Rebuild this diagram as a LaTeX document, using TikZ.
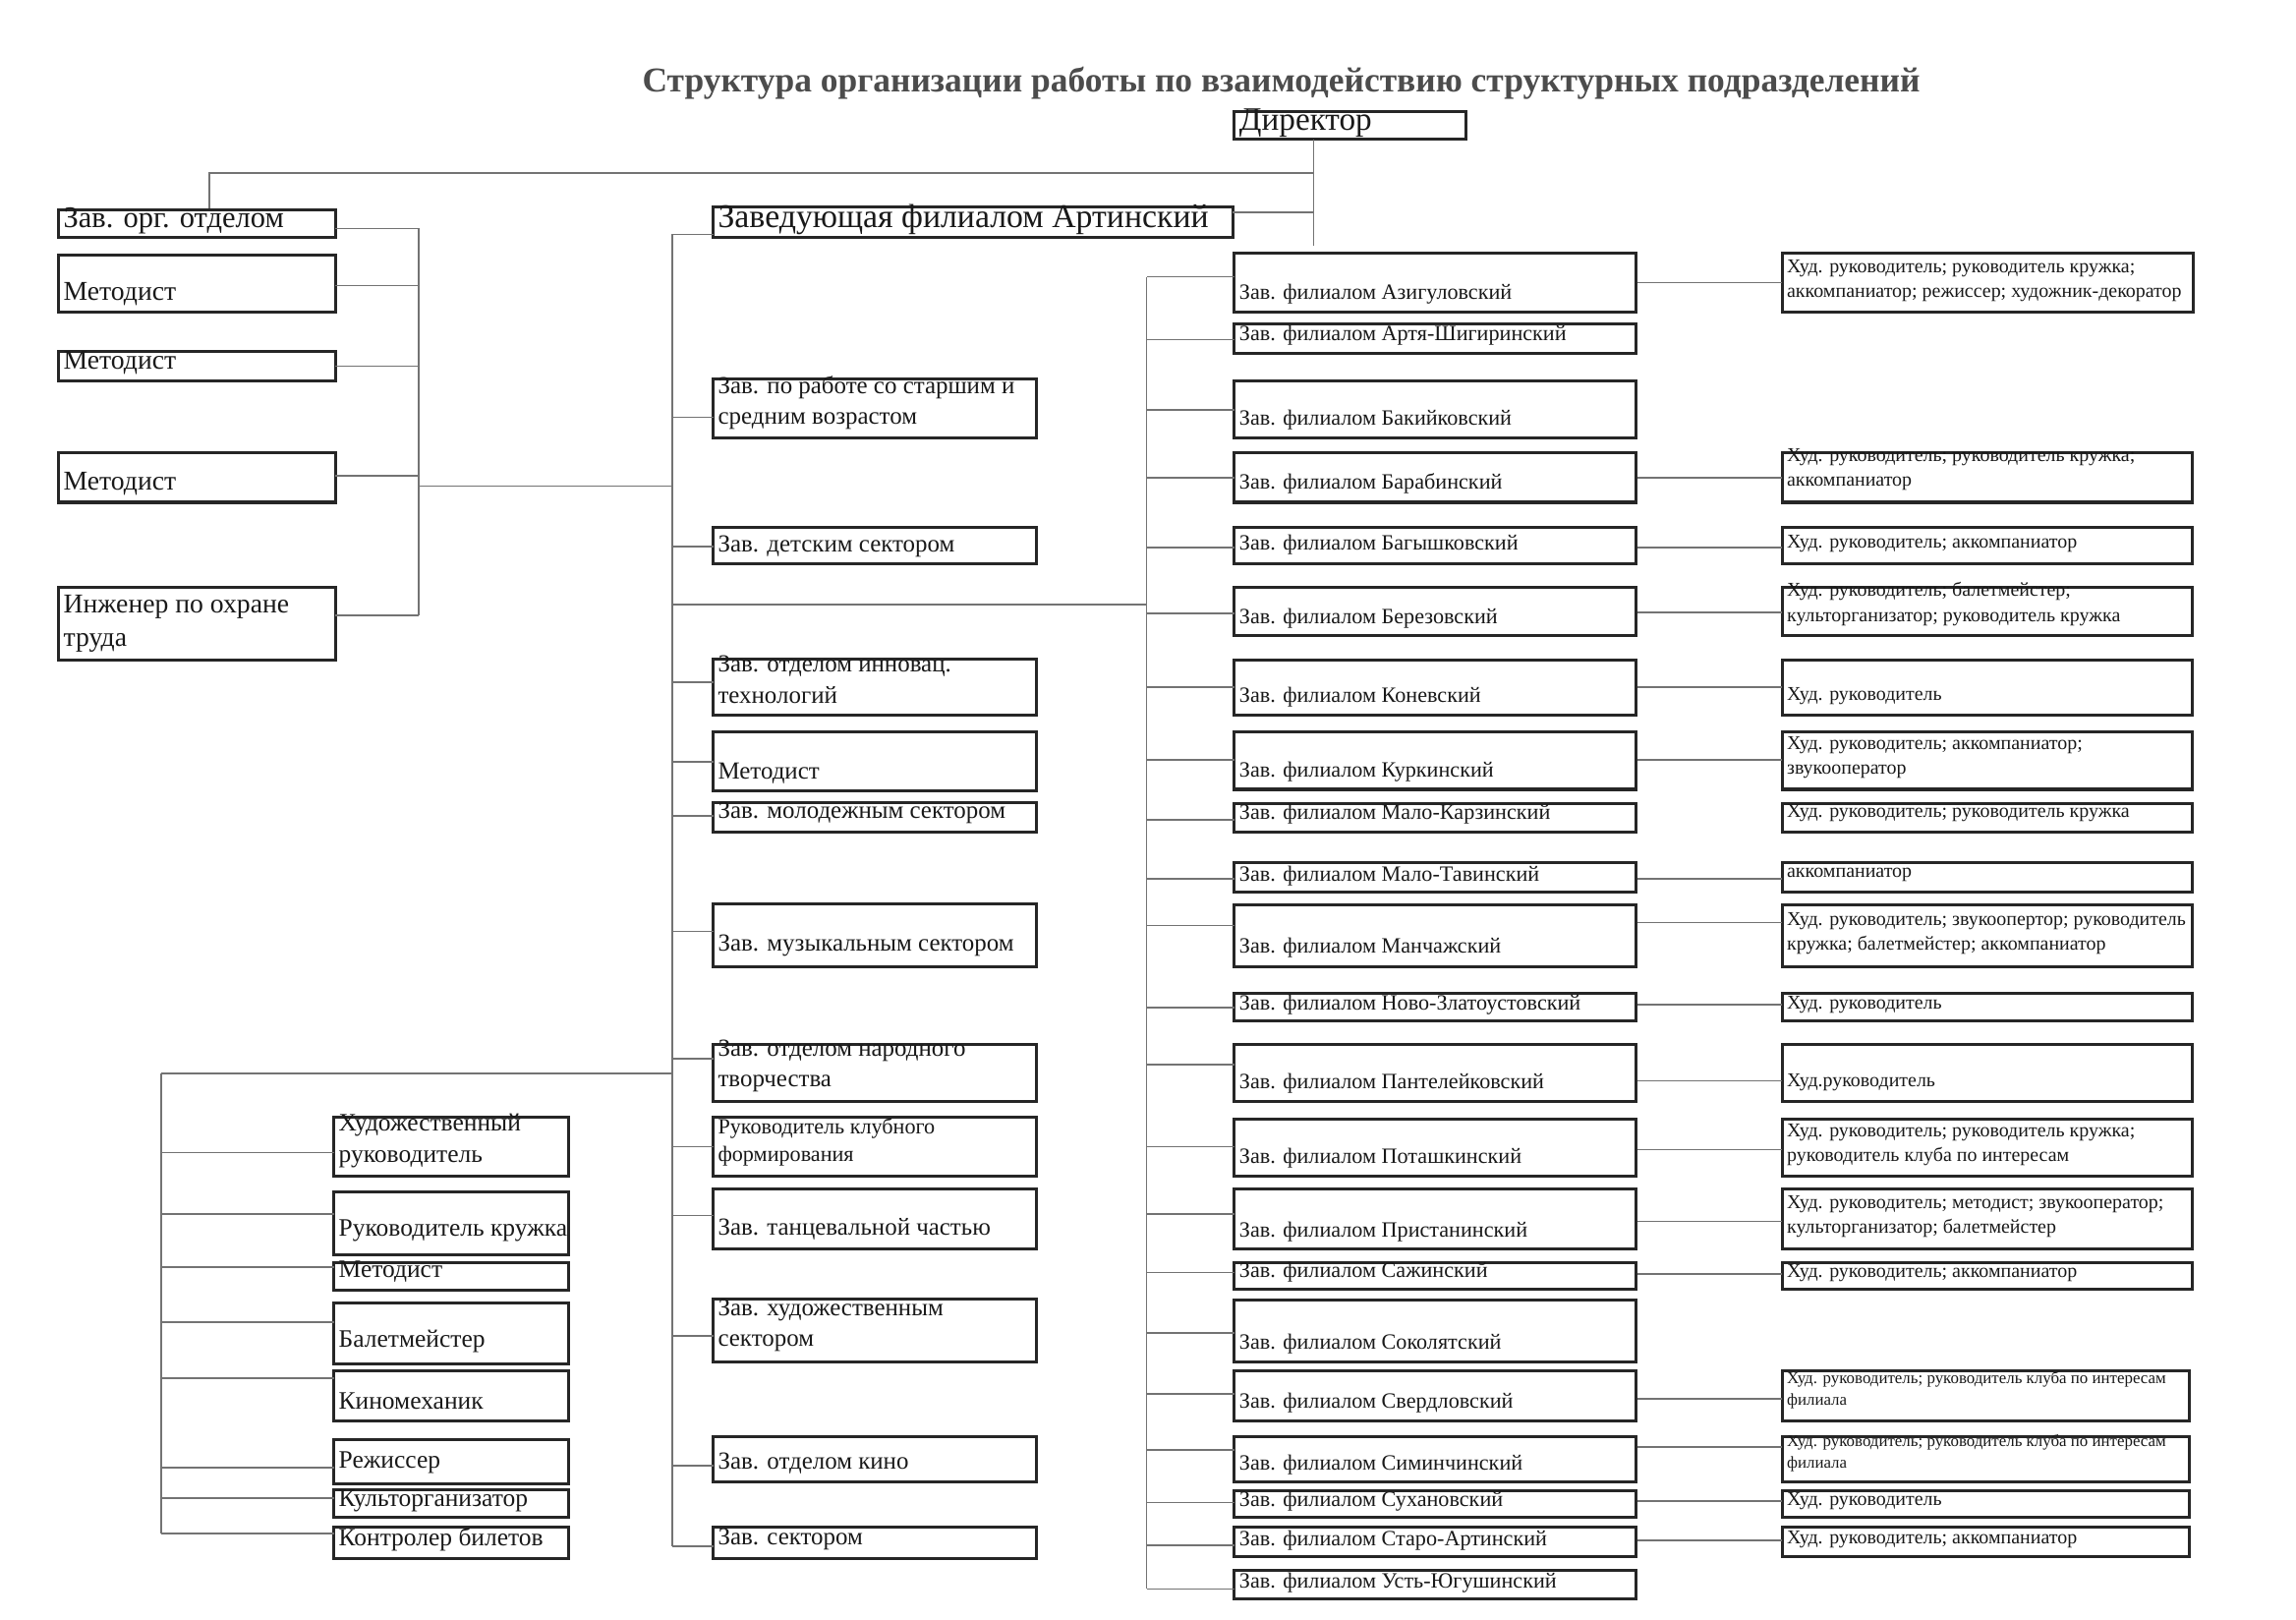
\documentclass[tikz,border=0pt]{standalone}
\usepackage{fontspec}
\setmainfont{Liberation Serif}
\usetikzlibrary{fit}

% box with its text and the two points where connectors meet it
\newcommand\orgbox[9]{%
  \node[box,fit={(#3,#4) (#5,#6)}] (#1) {};
  \node[#2,anchor=west] (#1-t) at (#3+3,#8) {#9};
  \coordinate (#1-w) at (#3,#7);
  \coordinate (#1-e) at (#5,#7);
}

\begin{document}
\begin{tikzpicture}[
  x=0.0189cm,y=-0.0189cm,
  box/.style={draw=black!85,line width=1.1pt,inner sep=0pt},
  conn/.style={draw=black!55,line width=0.6pt},
  txt/.style={inner sep=0pt,align=left,text=black!90},
  title/.style={font=\bfseries\fontsize{12.8}{15}\selectfont,text=black!70},
  big/.style={txt,font=\fontsize{12}{14}\selectfont},
  head/.style={txt,font=\fontsize{12.2}{14}\selectfont},
  lftbig/.style={txt,font=\fontsize{11}{13}\selectfont},
  lft/.style={txt,font=\fontsize{10}{12.3}\selectfont},
  mid/.style={txt,font=\fontsize{9}{11.3}\selectfont},
  low/.style={txt,font=\fontsize{9.2}{11.3}\selectfont},
  club/.style={txt,font=\fontsize{8}{10.3}\selectfont},
  brn/.style={txt,font=\fontsize{8}{9.6}\selectfont},
  rol/.style={txt,font=\fontsize{7.2}{9.1}\selectfont},
  rolsm/.style={txt,font=\fontsize{6.1}{8}\selectfont},
]
\useasboundingbox (0,0) rectangle (1568,1106);
\node[title] (ttl) at (875,57) {Структура организации работы по взаимодействию структурных подразделений};

\orgbox{dir}{big}{843}{76}{1001}{95}{95}{84}{Директор}
\orgbox{art}{head}{487}{141}{842}{162}{160}{150}{Заведующая филиалом Артинский}

\orgbox{org}{lftbig}{40}{143}{229}{162}{156}{151}{Зав. орг. отделом}
\orgbox{met1}{lft}{40}{174}{229}{213}{195}{201}{Методист}
\orgbox{met2}{lft}{40}{240}{229}{260}{250}{248}{Методист}
\orgbox{met3}{lft}{40}{309}{229}{343}{325}{330}{Методист}
\orgbox{eng}{lft}{40}{401}{229}{451}{420}{426}{Инженер по охране\\труда}

\orgbox{m1}{mid}{487}{259}{708}{299}{285}{275}{Зав. по работе со старшим и\\средним возрастом}
\orgbox{m2}{mid}{487}{360}{708}{385}{373}{373}{Зав. детским сектором}
\orgbox{m3}{mid}{487}{450}{708}{488}{466}{464}{Зав. отделом инновац.\\технологий}
\orgbox{m4}{mid}{487}{500}{708}{540}{520}{528}{Методист}
\orgbox{m5}{mid}{487}{548}{708}{568}{557}{555}{Зав. молодежным сектором}
\orgbox{m6}{mid}{487}{617}{708}{660}{636}{646}{Зав. музыкальным сектором}
\orgbox{m7}{mid}{487}{713}{708}{752}{723}{728}{Зав. отделом народного\\творчества}
\orgbox{m8}{club}{487}{763}{708}{803}{783}{780}{Руководитель клубного\\формирования}
\orgbox{m9}{mid}{487}{812}{708}{853}{830}{839}{Зав. танцевальной частью}
\orgbox{m10}{mid}{487}{887}{708}{930}{912}{905}{Зав. художественным\\сектором}
\orgbox{m11}{mid}{487}{981}{708}{1012}{1001}{999}{Зав. отделом кино}
\orgbox{m12}{mid}{487}{1043}{708}{1064}{1056}{1051}{Зав. сектором}

\orgbox{b1}{low}{228}{763}{388}{803}{787}{779}{Художественный\\руководитель}
\orgbox{b2}{low}{228}{814}{388}{857}{829}{840}{Руководитель кружка}
\orgbox{b3}{low}{228}{862}{388}{881}{865}{868}{Методист}
\orgbox{b4}{low}{228}{890}{388}{931}{903}{916}{Балетмейстер}
\orgbox{b5}{low}{228}{936}{388}{970}{941}{957}{Киномеханик}
\orgbox{b6}{low}{228}{983}{388}{1013}{1002}{999}{Режиссер}
\orgbox{b7}{low}{228}{1017}{388}{1036}{1023}{1025}{Культорганизатор}
\orgbox{b8}{low}{228}{1043}{388}{1064}{1047}{1051}{Контролер билетов}

\orgbox{azig}{brn}{843}{173}{1117}{213}{189}{201}{Зав. филиалом Азигуловский}
\orgbox{artsh}{brn}{843}{221}{1117}{241}{232}{229}{Зав. филиалом Артя-Шигиринский}
\orgbox{bakiy}{brn}{843}{260}{1117}{299}{280}{287}{Зав. филиалом Бакийковский}
\orgbox{barab}{brn}{843}{309}{1117}{343}{326}{330}{Зав. филиалом Барабинский}
\orgbox{bagysh}{brn}{843}{360}{1117}{385}{374}{372}{Зав. филиалом Багышковский}
\orgbox{berez}{brn}{843}{401}{1117}{434}{419}{422}{Зав. филиалом Березовский}
\orgbox{konev}{brn}{843}{451}{1117}{488}{469}{476}{Зав. филиалом Коневский}
\orgbox{kurk}{brn}{843}{500}{1117}{539}{519}{527}{Зав. филиалом Куркинский}
\orgbox{mkarz}{brn}{843}{549}{1117}{568}{560}{556}{Зав. филиалом Мало-Карзинский}
\orgbox{mtav}{brn}{843}{589}{1117}{609}{600}{598}{Зав. филиалом Мало-Тавинский}
\orgbox{manch}{brn}{843}{618}{1117}{660}{632}{647}{Зав. филиалом Манчажский}
\orgbox{nzlat}{brn}{843}{678}{1117}{697}{688}{686}{Зав. филиалом Ново-Златоустовский}
\orgbox{pant}{brn}{843}{713}{1117}{752}{727}{740}{Зав. филиалом Пантелейковский}
\orgbox{potash}{brn}{843}{764}{1117}{803}{783}{791}{Зав. филиалом Поташкинский}
\orgbox{prist}{brn}{843}{812}{1117}{853}{829}{841}{Зав. филиалом Пристанинский}
\orgbox{sazh}{brn}{843}{862}{1117}{880}{869}{869}{Зав. филиалом Сажинский}
\orgbox{sokol}{brn}{843}{888}{1117}{930}{910}{918}{Зав. филиалом Соколятский}
\orgbox{sverd}{brn}{843}{936}{1117}{970}{952}{958}{Зав. филиалом Свердловский}
\orgbox{simin}{brn}{843}{981}{1117}{1012}{990}{1000}{Зав. филиалом Симинчинский}
\orgbox{sukh}{brn}{843}{1018}{1117}{1036}{1026}{1025}{Зав. филиалом Сухановский}
\orgbox{staro}{brn}{843}{1043}{1117}{1063}{1055}{1052}{Зав. филиалом Старо-Артинский}
\orgbox{ust}{brn}{843}{1072}{1117}{1092}{1085}{1081}{Зав. филиалом Усть-Югушинский}

\orgbox{r1}{rol}{1217}{173}{1498}{213}{193}{191.5}{Худ. руководитель; руководитель кружка;\\аккомпаниатор; режиссер; художник-декоратор}
\orgbox{r4}{rol}{1217}{309}{1497}{343}{326}{320.5}{Худ. руководитель; руководитель кружка;\\аккомпаниатор}
\orgbox{r5}{rol}{1217}{360}{1497}{385}{374}{371}{Худ. руководитель; аккомпаниатор}
\orgbox{r6}{rol}{1217}{401}{1497}{434}{418}{412.5}{Худ. руководитель; балетмейстер;\\культорганизатор; руководитель кружка}
\orgbox{r7}{rol}{1217}{451}{1497}{488}{469}{475}{Худ. руководитель}
\orgbox{r8}{rol}{1217}{500}{1497}{539}{519}{517.5}{Худ. руководитель; аккомпаниатор;\\звукооператор}
\orgbox{r9}{rol}{1217}{549}{1497}{568}{558}{555}{Худ. руководитель; руководитель кружка}
\orgbox{r10}{rol}{1217}{589}{1497}{609}{600}{597}{аккомпаниатор}
\orgbox{r11}{rol}{1217}{618}{1497}{660}{630}{637.5}{Худ. руководитель; звукоопертор; руководитель\\кружка; балетмейстер; аккомпаниатор}
\orgbox{r12}{rol}{1217}{678}{1497}{697}{686}{686}{Худ. руководитель}
\orgbox{r13}{rol}{1217}{713}{1497}{752}{738}{739}{Худ.руководитель}
\orgbox{r14}{rol}{1217}{764}{1497}{803}{785}{781.5}{Худ. руководитель; руководитель кружка;\\руководитель клуба по интересам}
\orgbox{r15}{rol}{1217}{812}{1497}{853}{834}{830.5}{Худ. руководитель; методист; звукооператор;\\культорганизатор; балетмейстер}
\orgbox{r16}{rol}{1217}{862}{1497}{880}{870}{869}{Худ. руководитель; аккомпаниатор}
\orgbox{r18}{rolsm}{1217}{936}{1495}{970}{955}{949.5}{Худ. руководитель; руководитель клуба по интересам\\филиала}
\orgbox{r19}{rolsm}{1217}{981}{1495}{1012}{988}{992}{Худ. руководитель; руководитель клуба по интересам\\филиала}
\orgbox{r20}{rol}{1217}{1018}{1495}{1036}{1025}{1025}{Худ. руководитель}
\orgbox{r21}{rol}{1217}{1043}{1495}{1063}{1052}{1051}{Худ. руководитель; аккомпаниатор}

\coordinate (dtop) at (897,95);
\coordinate (dbot) at (897,168);
\coordinate (topl) at (143,118);
\coordinate (art-r) at (842,145);
\coordinate (lbus) at (286,332);
\coordinate (mbus) at (459,413);
\coordinate (rbus) at (783,413);
\coordinate (bbus) at (110,733);

\draw[conn] (dtop) -- (dbot);
\draw[conn] (org.north -| topl) -- (topl) -- (topl -| dtop);
\draw[conn] (art-r) -- (art-r -| dtop);

\draw[conn] (org-e -| lbus) -- (eng-e -| lbus);
\foreach \n in {org,met1,met2,met3,eng}
  \draw[conn] (\n-e) -- (\n-e -| lbus);
\draw[conn] (lbus) -- (lbus -| mbus);

\draw[conn] (mbus |- art-w) -- (mbus |- m12-w);
\foreach \n in {art,m1,m2,m3,m4,m5,m6,m7,m8,m9,m10,m11,m12}
  \draw[conn] (mbus |- \n-w) -- (\n-w);
\draw[conn] (mbus) -- (rbus);
\draw[conn] (bbus) -- (bbus -| mbus);

\draw[conn] (bbus) -- (bbus |- b8-w);
\foreach \n in {b1,b2,b3,b4,b5,b6,b7,b8}
  \draw[conn] (bbus |- \n-w) -- (\n-w);

\draw[conn] (rbus |- azig-w) -- (rbus |- ust-w);
\foreach \n in {azig,artsh,bakiy,barab,bagysh,berez,konev,kurk,mkarz,mtav,manch,nzlat,pant,potash,prist,sazh,sokol,sverd,simin,sukh,staro,ust}
  \draw[conn] (rbus |- \n-w) -- (\n-w);

\foreach \b/\r in {azig/r1,barab/r4,bagysh/r5,berez/r6,konev/r7,kurk/r8,mtav/r10,manch/r11,nzlat/r12,pant/r13,potash/r14,prist/r15,sazh/r16,sverd/r18,simin/r19,sukh/r20,staro/r21}
  \draw[conn] (\b.east |- \r-w) -- (\r-w);
\end{tikzpicture}
\end{document}
